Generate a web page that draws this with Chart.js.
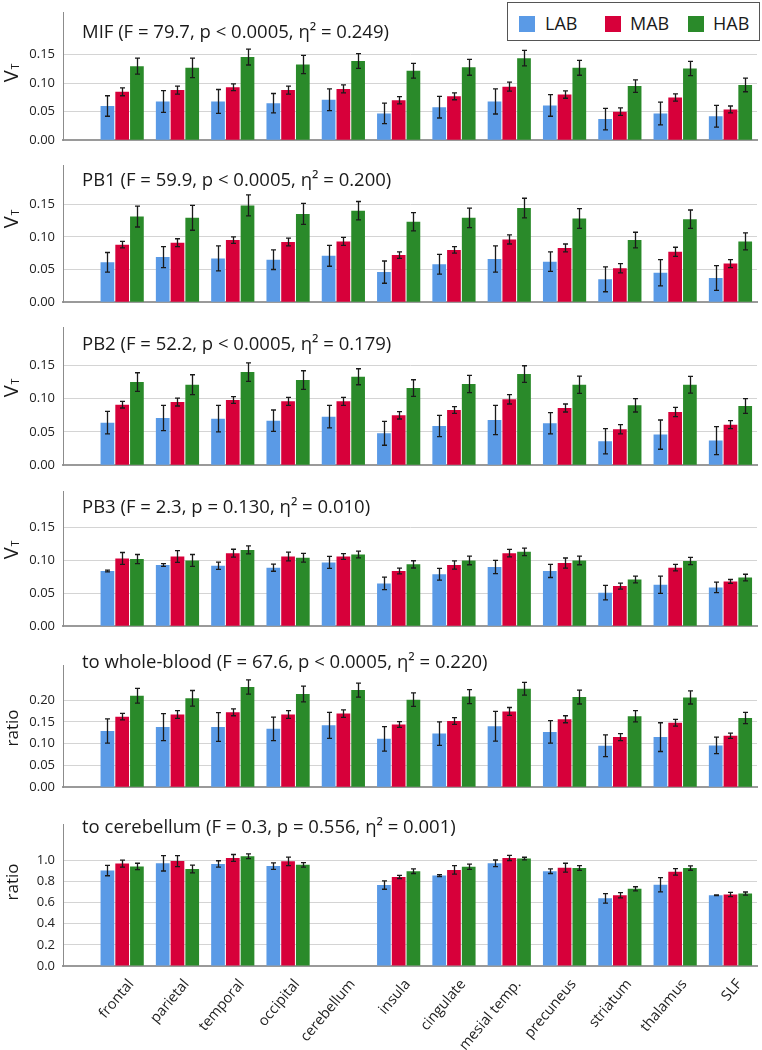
<!DOCTYPE html>
<html>
<head>
<meta charset="utf-8">
<script src="https://cdn.jsdelivr.net/npm/chart.js@4.4.1/dist/chart.umd.min.js"></script>
<style>
  body{margin:0;background:#fff;font-family:"Open Sans",sans-serif}
  #wrap{position:relative;width:762px;height:1050px;overflow:hidden;background:#fff}
  #wrap canvas{position:absolute;left:0}
  #legend{position:absolute;left:507px;top:2px;width:251px;height:37px;border:1.5px solid #555;background:#fff;z-index:5;font-size:18px;color:#1a1a1a}
  #legend .sw{position:absolute;top:13px;width:16px;height:16px}
  #legend .tx{position:absolute;top:8px;line-height:24px}
</style>
</head>
<body>
<div id="wrap">
  <div id="legend"></div>
</div>
<script>
// ---- categories / groups ----
const regions = ["frontal","parietal","temporal","occipital","cerebellum","insula","cingulate","mesial temp.","precuneus","striatum","thalamus","SLF"];
const groups = ["LAB","MAB","HAB"];
const colors = ["#5A9AE6","#D7003A","#2A8A2A"];

// ---- tick labels ----
const vtTicks = [0, 0.05, 0.10, 0.15];
const wbTicks = [0, 0.05, 0.10, 0.15, 0.20];
const cbTicks = [0, 0.2, 0.4, 0.6, 0.8, 1.0];

// ---- MIF ----
const mifLab    = [0.060,0.068,0.068,0.065,0.071,0.047,0.058,0.068,0.061,0.037,0.047,0.042];
const mifLabErr = [0.018,0.019,0.021,0.017,0.019,0.018,0.019,0.022,0.019,0.019,0.020,0.019];
const mifMab    = [0.085,0.088,0.093,0.088,0.090,0.070,0.077,0.094,0.080,0.050,0.075,0.054];
const mifMabErr = [0.007,0.007,0.006,0.007,0.007,0.0064,0.006,0.008,0.0064,0.0066,0.0064,0.006];
const mifHab    = [0.130,0.127,0.146,0.133,0.139,0.122,0.128,0.144,0.127,0.095,0.126,0.097];
const mifHabErr = [0.014,0.017,0.014,0.016,0.013,0.013,0.014,0.0135,0.013,0.011,0.0125,0.012];

// ---- PB1 ----
const pb1Lab    = [0.061,0.069,0.067,0.065,0.071,0.046,0.058,0.066,0.062,0.035,0.045,0.037];
const pb1LabErr = [0.015,0.016,0.019,0.015,0.016,0.017,0.015,0.020,0.015,0.019,0.020,0.019];
const pb1Mab    = [0.088,0.091,0.095,0.092,0.093,0.072,0.080,0.096,0.083,0.052,0.077,0.059];
const pb1MabErr = [0.005,0.006,0.005,0.006,0.006,0.005,0.005,0.007,0.006,0.007,0.007,0.006];
const pb1Hab    = [0.131,0.129,0.148,0.135,0.140,0.123,0.129,0.144,0.128,0.095,0.127,0.093];
const pb1HabErr = [0.016,0.019,0.016,0.016,0.014,0.014,0.015,0.015,0.015,0.012,0.014,0.013];

// ---- PB2 ----
const pb2Lab    = [0.064,0.071,0.070,0.067,0.073,0.048,0.059,0.068,0.063,0.036,0.046,0.037];
const pb2LabErr = [0.017,0.019,0.020,0.016,0.017,0.018,0.016,0.022,0.016,0.019,0.022,0.021];
const pb2Mab    = [0.091,0.095,0.098,0.096,0.096,0.075,0.083,0.099,0.086,0.054,0.080,0.061];
const pb2MabErr = [0.005,0.006,0.005,0.006,0.006,0.0055,0.005,0.007,0.006,0.007,0.007,0.006];
const pb2Hab    = [0.125,0.121,0.140,0.128,0.133,0.116,0.122,0.137,0.121,0.090,0.121,0.089];
const pb2HabErr = [0.014,0.015,0.014,0.014,0.012,0.0125,0.013,0.0125,0.013,0.010,0.0125,0.011];

// ---- PB3 ----
const pb3Lab    = [0.084,0.093,0.092,0.089,0.097,0.065,0.079,0.090,0.084,0.051,0.063,0.059];
const pb3LabErr = [0.0013,0.002,0.0055,0.0055,0.009,0.0095,0.009,0.010,0.010,0.011,0.013,0.008];
const pb3Mab    = [0.103,0.106,0.111,0.106,0.106,0.084,0.093,0.111,0.096,0.061,0.089,0.068];
const pb3MabErr = [0.009,0.009,0.006,0.0066,0.0044,0.0044,0.0062,0.0057,0.0077,0.0046,0.005,0.003];
const pb3Hab    = [0.102,0.100,0.116,0.104,0.109,0.094,0.100,0.113,0.100,0.071,0.099,0.074];
const pb3HabErr = [0.007,0.009,0.006,0.0066,0.005,0.0055,0.0066,0.0057,0.0066,0.005,0.0055,0.005];

// ---- to whole-blood ----
const wbLab    = [0.129,0.138,0.138,0.134,0.142,0.111,0.123,0.140,0.127,0.095,0.115,0.096];
const wbLabErr = [0.028,0.031,0.033,0.027,0.030,0.028,0.027,0.034,0.026,0.025,0.033,0.019];
const wbMab    = [0.162,0.167,0.172,0.167,0.169,0.144,0.152,0.174,0.156,0.115,0.148,0.118];
const wbMabErr = [0.0076,0.009,0.008,0.009,0.0086,0.0066,0.0076,0.009,0.008,0.008,0.0076,0.006];
const wbHab    = [0.210,0.204,0.230,0.214,0.223,0.201,0.208,0.226,0.207,0.163,0.206,0.159];
const wbHabErr = [0.017,0.018,0.0165,0.018,0.016,0.0155,0.016,0.0145,0.016,0.013,0.015,0.013];

// ---- to cerebellum ----
const cbLab    = [0.903,0.972,0.966,0.945,0,0.766,0.856,0.972,0.897,0.640,0.769,0.670];
const cbLabErr = [0.049,0.073,0.030,0.030,null,0.040,0.009,0.031,0.022,0.045,0.067,0.003];
const cbMab    = [0.969,0.993,1.022,0.990,0,0.843,0.909,1.022,0.930,0.670,0.891,0.676];
const cbMabErr = [0.033,0.052,0.033,0.040,null,0.015,0.040,0.024,0.042,0.025,0.031,0.020];
const cbHab    = [0.942,0.918,1.038,0.957,0,0.897,0.939,1.017,0.927,0.730,0.927,0.685];
const cbHabErr = [0.030,0.037,0.022,0.022,null,0.022,0.025,0.012,0.022,0.020,0.021,0.015];

// panels: top/bottom = plot area in page pixels
const panels = [
  {title:"MIF (F = 79.7, p < 0.0005, η² = 0.249)", ytitle:"V", sub:"T", vals:[mifLab,mifMab,mifHab], errs:[mifLabErr,mifMabErr,mifHabErr], ticks:vtTicks, dec:2, top:5, bottom:152, max:0.2236, titleY:33, ytY:73},
  {title:"PB1 (F = 59.9, p < 0.0005, η² = 0.200)", ytitle:"V", sub:"T", vals:[pb1Lab,pb1Mab,pb1Hab], errs:[pb1LabErr,pb1MabErr,pb1HabErr], ticks:vtTicks, dec:2, top:158, bottom:314, max:0.2086, titleY:181, ytY:219},
  {title:"PB2 (F = 52.2, p < 0.0005, η² = 0.179)", ytitle:"V", sub:"T", vals:[pb2Lab,pb2Mab,pb2Hab], errs:[pb2LabErr,pb2MabErr,pb2HabErr], ticks:vtTicks, dec:2, top:320, bottom:477, max:0.2066, titleY:345, ytY:388},
  {title:"PB3 (F = 2.3, p = 0.130, η² = 0.010)", ytitle:"V", sub:"T", vals:[pb3Lab,pb3Mab,pb3Hab], errs:[pb3LabErr,pb3MabErr,pb3HabErr], ticks:vtTicks, dec:2, top:484, bottom:638, max:0.2043, titleY:508, ytY:550},
  {title:"to whole-blood (F = 67.6, p < 0.0005, η² = 0.220)", ytitle:"ratio", sub:"", vals:[wbLab,wbMab,wbHab], errs:[wbLabErr,wbMabErr,wbHabErr], ticks:wbTicks, dec:2, top:658, bottom:799, max:0.2787, titleY:663, ytY:728},
  {title:"to cerebellum (F = 0.3, p = 0.556, η² = 0.001)", ytitle:"ratio", sub:"", vals:[cbLab,cbMab,cbHab], errs:[cbLabErr,cbMabErr,cbHabErr], ticks:cbTicks, dec:1, top:817, bottom:966, max:1.336, titleY:828, ytY:882}
];

const FONT = '"Open Sans", sans-serif';
const PAD = 8;

// error whiskers from dataset.err
const errorBars = {
  id:"errorBars",
  afterDatasetsDraw(chart){
    const ctx = chart.ctx, y = chart.scales.y;
    ctx.save();
    ctx.strokeStyle = "#1a1a1a";
    ctx.lineWidth = 1.3;
    chart.data.datasets.forEach((ds, k)=>{
      const meta = chart.getDatasetMeta(k);
      meta.data.forEach((bar, i)=>{
        const e = ds.err[i];
        if(e == null) return;
        const v = ds.data[i].y;
        const y1 = y.getPixelForValue(v - e), y2 = y.getPixelForValue(v + e);
        const x = Math.round(bar.x) + 0.5;
        ctx.beginPath();
        ctx.moveTo(x, y1); ctx.lineTo(x, y2);
        ctx.moveTo(x - 2.5, y1); ctx.lineTo(x + 2.5, y1);
        ctx.moveTo(x - 2.5, y2); ctx.lineTo(x + 2.5, y2);
        ctx.stroke();
      });
    });
    ctx.restore();
  }
};

// panel title + rotated y title (with subscript)
const panelText = {
  id:"panelText",
  afterDraw(chart, args, o){
    const ctx = chart.ctx;
    ctx.save();
    ctx.fillStyle = "#1a1a1a";
    ctx.font = "18.5px " + FONT;
    ctx.textBaseline = "middle";
    ctx.textAlign = "left";
    ctx.fillText(o.title, 82, o.titleY - o.canvasTop);

    ctx.translate(18, o.ytY - o.canvasTop);
    ctx.rotate(-Math.PI / 2);
    ctx.textBaseline = "alphabetic";
    const big = o.sub ? "20px " + FONT : "17px " + FONT;
    ctx.font = big;
    const w1 = ctx.measureText(o.ytitle).width;
    ctx.font = "10px " + FONT;
    const w2 = o.sub ? ctx.measureText(o.sub).width + 1 : 0;
    const x0 = -(w1 + w2) / 2;
    ctx.font = big;
    ctx.fillText(o.ytitle, x0, 0);
    if(o.sub){
      ctx.font = "10px " + FONT;
      ctx.fillText(o.sub, x0 + w1 + 1, 1);
    }
    ctx.restore();
  }
};

const wrap = document.getElementById("wrap");

// legend
const legend = document.getElementById("legend");
const legPos = [[11, 37], [97, 122], [180, 205]];
groups.forEach((g, k)=>{
  const sw = document.createElement("div");
  sw.className = "sw"; sw.style.left = legPos[k][0] + "px"; sw.style.background = colors[k];
  const tx = document.createElement("div");
  tx.className = "tx"; tx.style.left = legPos[k][1] + "px"; tx.textContent = g;
  legend.appendChild(sw); legend.appendChild(tx);
});

panels.forEach((p, idx)=>{
  const last = idx === panels.length - 1;
  const cTop = p.top - PAD;
  const h = (last ? 1050 : p.bottom + 4) - cTop;
  const cv = document.createElement("canvas");
  cv.width = 762; cv.height = h;
  cv.style.top = cTop + "px"; cv.style.width = "762px"; cv.style.height = h + "px";
  wrap.appendChild(cv);

  new Chart(cv, {
    type:"bar",
    data:{
      datasets: groups.map((g, k)=>({
        label:g,
        data:p.vals[k].map((v, j)=>({x:j, y:v})),
        err:p.errs[k],
        backgroundColor:colors[k],
        categoryPercentage:0.8,
        barPercentage:0.93
      }))
    },
    options:{
      responsive:false,
      animation:false,
      layout:{padding:{top:PAD, right:5, left:0, bottom:0}},
      plugins:{
        legend:{display:false},
        tooltip:{enabled:false},
        panelText:{title:p.title, ytitle:p.ytitle, sub:p.sub, titleY:p.titleY, ytY:p.ytY, canvasTop:cTop}
      },
      scales:{
        x:{
          type:"linear", min:-1.07, max:11.48, offset:false,
          grid:{display:false, offset:false},
          border:{color:"#9a9a9a", width:2},
          afterBuildTicks: s => { s.ticks = regions.map((r, j)=>({value:j})); },
          afterFit: s => { s.height = last ? 1050 - p.bottom : 4; s.paddingLeft = 0; s.paddingRight = 0; },
          ticks:{display:last, autoSkip:false, minRotation:50, maxRotation:50, padding:2, labelOffset:9,
                 font:{family:FONT, size:14.5}, color:"#222", callback: v => regions[v]}
        },
        y:{
          min:0, max:p.max,
          afterBuildTicks: s => { s.ticks = p.ticks.map(v=>({value:v})); },
          afterFit: s => { s.width = 63; },
          grid:{color:"#d4d4d4", drawTicks:false},
          border:{color:"#8c8c8c", width:1},
          ticks:{padding:8, font:{family:FONT, size:13}, color:"#222", callback: v => v.toFixed(p.dec)}
        }
      }
    },
    plugins:[errorBars, panelText]
  });
});
</script>
</body>
</html>
